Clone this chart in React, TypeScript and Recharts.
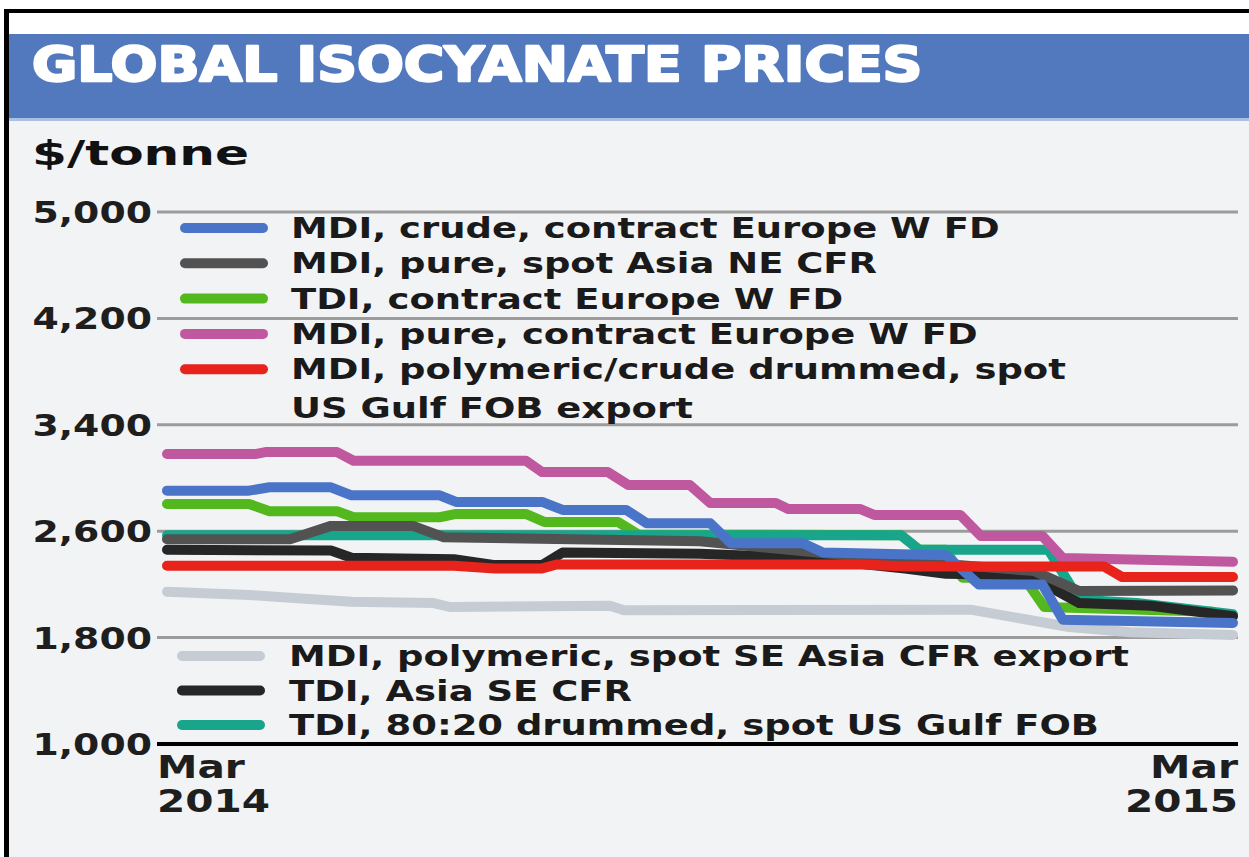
import { LineChart, Line, XAxis, YAxis, CartesianGrid, Legend } from 'recharts';

const W = 1249;
const H = 857;
const FONT = '"DejaVu Sans", "Liberation Sans", sans-serif';

// x = weeks since the start of March 2014, y = $/tonne
const mdiCrudeEurope: [number, number][] = [
  [0, 2905], [4, 2905], [5, 2930], [8, 2930], [9, 2870], [13.3, 2870], [14.1, 2820],
  [18.3, 2820], [19.3, 2760], [22.4, 2760], [23.4, 2660], [26.5, 2660], [27.5, 2510],
  [31, 2510], [32, 2440], [38, 2420], [39.6, 2200], [42.7, 2200], [43.7, 1935], [52, 1910],
];
const mdiPureAsia: [number, number][] = [
  [0, 2540], [6, 2540], [8, 2640], [12, 2640], [13.5, 2555], [26, 2525], [35, 2390],
  [42.3, 2300], [44.5, 2150], [52, 2155],
];
const tdiEurope: [number, number][] = [
  [0, 2805], [4, 2805], [5, 2750], [8.3, 2750], [9.1, 2705], [13.3, 2705], [14.1, 2730],
  [17.5, 2730], [18.4, 2670], [22, 2670], [23, 2575], [35.8, 2570], [36.7, 2460],
  [38, 2460], [38.8, 2250], [41.8, 2250], [42.8, 2030], [51, 1995],
];
const mdiPureEurope: [number, number][] = [
  [0, 3180], [4.3, 3180], [4.8, 3195], [8.3, 3195], [9.1, 3130], [17.5, 3130], [18.3, 3045],
  [21.5, 3045], [22.5, 2947], [25.5, 2947], [26.5, 2812], [29.7, 2812], [30.3, 2767],
  [33.8, 2767], [34.5, 2722], [38.7, 2722], [39.7, 2564], [42.7, 2564], [43.7, 2398],
  [52, 2370],
];
const mdiDrummedUsGulf: [number, number][] = [
  [0, 2340], [14, 2340], [16, 2320], [18.3, 2320], [19, 2350], [34, 2350], [36, 2335],
  [45.7, 2335], [46.6, 2255], [52, 2255],
];
const mdiPolymericAsia: [number, number][] = [
  [0, 2145], [4, 2120], [6, 2100], [9, 2070], [13, 2060], [13.8, 2030], [21.6, 2040],
  [22.3, 2005], [39.2, 2010], [44, 1880], [47, 1840], [52, 1820],
];
const tdiAsia: [number, number][] = [
  [0, 2460], [8, 2455], [9, 2400], [14, 2390], [16, 2345], [18.3, 2345], [19.3, 2440],
  [26, 2430], [31, 2400], [36, 2320], [38, 2280], [42, 2270], [44.5, 2060], [48, 2040],
  [52, 1960],
];
const tdiDrummedUsGulf: [number, number][] = [
  [0, 2570], [35.8, 2570], [36.7, 2460], [43, 2460], [44.5, 2085], [47.3, 2060], [52, 1975],
];

const Y_TICKS = [1000, 1800, 2600, 3400, 4200, 5000];
const X_TICKS = [0, 52];
const X_TICK_LABELS = [['Mar', '2014'], ['Mar', '2015']];

const SERIES = [
  { id: 'mdiCrudeEurope', name: 'MDI, crude, contract Europe W FD', points: mdiCrudeEurope },
  { id: 'mdiPureAsia', name: 'MDI, pure, spot Asia NE CFR', points: mdiPureAsia },
  { id: 'tdiEurope', name: 'TDI, contract Europe W FD', points: tdiEurope },
  { id: 'mdiPureEurope', name: 'MDI, pure, contract Europe W FD', points: mdiPureEurope },
  { id: 'mdiDrummedUsGulf', name: 'MDI, polymeric/crude drummed, spot\nUS Gulf FOB export', points: mdiDrummedUsGulf },
  { id: 'mdiPolymericAsia', name: 'MDI, polymeric, spot SE Asia CFR export', points: mdiPolymericAsia },
  { id: 'tdiAsia', name: 'TDI, Asia SE CFR', points: tdiAsia },
  { id: 'tdiDrummedUsGulf', name: 'TDI, 80:20 drummed, spot US Gulf FOB', points: tdiDrummedUsGulf },
];

const COLORS: Record<string, string> = {
  mdiCrudeEurope: '#4a74c8',
  mdiPureAsia: '#525252',
  tdiEurope: '#52b81e',
  mdiPureEurope: '#c0589f',
  mdiDrummedUsGulf: '#e8231b',
  mdiPolymericAsia: '#c6ccd4',
  tdiAsia: '#262626',
  tdiDrummedUsGulf: '#18a58b',
};

// bottom to top
const DRAW_ORDER = [
  'mdiPolymericAsia', 'tdiEurope', 'tdiDrummedUsGulf', 'tdiAsia',
  'mdiPureAsia', 'mdiCrudeEurope', 'mdiPureEurope', 'mdiDrummedUsGulf',
];

const fmt = (v: number) => v.toLocaleString('en-US');

const YTick = ({ x, y, payload }: any) => (
  <text
    transform={`translate(${x},${y + 11}) scale(1.26,1)`}
    textAnchor="end"
    fontFamily={FONT}
    fontSize={30}
    fontWeight={700}
    fill="#1e1e1e"
  >
    {fmt(payload.value)}
  </text>
);

const XTick = ({ x, y, payload }: any) => {
  const first = payload.value === X_TICKS[0];
  const [month, year] = X_TICK_LABELS[first ? 0 : 1];
  const tx = first ? x - 10 : x + 5;
  const anchor = first ? 'start' : 'end';
  const common = { textAnchor: anchor, fontFamily: FONT, fontSize: 32, fontWeight: 700, fill: '#1e1e1e' } as const;
  return (
    <g>
      <text transform={`translate(${tx},${y + 32}) scale(1.27,1)`} {...common}>{month}</text>
      <text transform={`translate(${tx},${y + 66}) scale(1.27,1)`} {...common}>{year}</text>
    </g>
  );
};

function LegendRow({ id, name, y, lineX, textX }: { id: string; name: string; y: number; lineX: number; textX: number }) {
  const lines = name.split('\n');
  return (
    <g>
      <line x1={lineX} x2={lineX + 78} y1={y} y2={y} stroke={COLORS[id]} strokeWidth={10} strokeLinecap="round" />
      {lines.map((t, i) => (
        <text
          key={t}
          transform={`translate(${textX},${y + 10 + i * 39}) scale(1.32,1)`}
          fontFamily={FONT}
          fontSize={28}
          fontWeight={700}
          fill="#1a1a1a"
        >
          {t}
        </text>
      ))}
    </g>
  );
}

const renderLegend = () => {
  const top = SERIES.slice(0, 5);
  const bottom = SERIES.slice(5);
  return (
    <svg width={W} height={H} style={{ position: 'absolute', left: 0, top: 0, overflow: 'visible' }}>
      {top.map((s, i) => (
        <LegendRow key={s.id} id={s.id} name={s.name} y={228 + i * 35.3} lineX={185} textX={291} />
      ))}
      {bottom.map((s, i) => (
        <LegendRow key={s.id} id={s.id} name={s.name} y={656 + i * 34.5} lineX={182} textX={289} />
      ))}
    </svg>
  );
};

export default function App() {
  return (
    <div style={{ position: 'absolute', left: 0, top: 0, width: W, height: H, background: '#fff', overflow: 'hidden' }}>
      <svg width={W} height={H} style={{ position: 'absolute', left: 0, top: 0 }}>
        <rect x={4} y={9} width={W} height={H} fill="#000" />
        <rect x={9} y={13} width={W} height={H} fill="#fff" />
        <rect x={9} y={34} width={W} height={84} fill="#5279bd" />
        <rect x={9} y={118} width={W} height={3} fill="#aac1e2" />
        <rect x={9} y={121} width={W} height={H} fill="#f2f3f5" />
        <text
          transform="translate(32,81) scale(1.15,1)"
          fontFamily={FONT}
          fontSize={48}
          fontWeight={700}
          fill="#fff"
          stroke="#fff"
          strokeWidth={2.4}
          strokeLinejoin="round"
        >
          GLOBAL ISOCYANATE PRICES
        </text>
        <text
          transform="translate(32,165) scale(1.52,1)"
          fontFamily={FONT}
          fontSize={33}
          fontWeight={700}
          fill="#111"
        >
          $/tonne
        </text>
      </svg>
      <div style={{ position: 'absolute', left: 0, top: 0 }}>
        <LineChart width={W} height={H} margin={{ top: 212, right: 11, bottom: 53, left: 0 }}>
          <CartesianGrid vertical={false} stroke="#9c9c9c" strokeWidth={3} />
          <XAxis
            dataKey="week"
            type="number"
            domain={[0, 52]}
            ticks={X_TICKS}
            padding={{ left: 10, right: 5 }}
            height={60}
            axisLine={{ stroke: '#000', strokeWidth: 4 }}
            tickLine={false}
            tickSize={0}
            tickMargin={2}
            tick={<XTick />}
            interval={0}
          />
          <YAxis
            type="number"
            domain={[1000, 5000]}
            ticks={Y_TICKS}
            width={157}
            axisLine={false}
            tickLine={false}
            tickSize={0}
            tickMargin={5}
            tick={<YTick />}
            interval={0}
          />
          <Legend
            content={renderLegend}
            wrapperStyle={{ position: 'absolute', left: 0, top: 0, width: 0, height: 0, overflow: 'visible' }}
          />
          {DRAW_ORDER.map((id) => {
            const s = SERIES.find((d) => d.id === id)!;
            return (
              <Line
                key={id}
                name={s.name}
                data={s.points.map(([week, price]) => ({ week, price }))}
                dataKey="price"
                type="linear"
                stroke={COLORS[id]}
                strokeWidth={10}
                strokeLinecap="round"
                strokeLinejoin="round"
                dot={false}
                activeDot={false}
                isAnimationActive={false}
              />
            );
          })}
        </LineChart>
      </div>
    </div>
  );
}
